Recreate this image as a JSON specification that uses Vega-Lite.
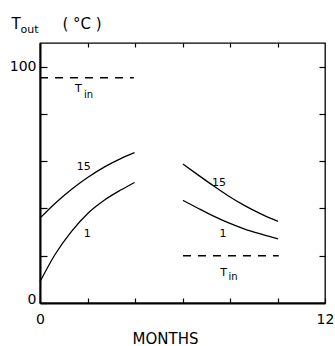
{
  "$schema": "https://vega.github.io/schema/vega-lite/v6.json",
  "autosize": "none",
  "width": 285,
  "height": 260,
  "padding": {"left": 40, "top": 43, "right": 10, "bottom": 43},
  "background": "white",
  "config": {
    "font": "DejaVu Sans",
    "view": {"stroke": "black", "strokeWidth": 1.3},
    "axis": {"grid": false, "domain": false, "tickColor": "black", "labelColor": "black", "titleColor": "black", "labelFont": "DejaVu Sans", "titleFont": "DejaVu Sans", "titleFontWeight": "normal", "labelFontSize": 14, "tickWidth": 1.2}
  },
  "datasets": {
    "curves": [
      {"s": "L15", "m": 0, "t": 35.9}, {"s": "L15", "m": 0.62, "t": 42.0}, {"s": "L15", "m": 1.32, "t": 48.0}, {"s": "L15", "m": 2.02, "t": 53.2}, {"s": "L15", "m": 2.72, "t": 57.6}, {"s": "L15", "m": 3.42, "t": 61.2}, {"s": "L15", "m": 3.98, "t": 63.6},
      {"s": "L1", "m": 0, "t": 9.0}, {"s": "L1", "m": 0.62, "t": 20.3}, {"s": "L1", "m": 1.32, "t": 30.2}, {"s": "L1", "m": 2.02, "t": 38.0}, {"s": "L1", "m": 2.72, "t": 43.6}, {"s": "L1", "m": 3.42, "t": 47.9}, {"s": "L1", "m": 3.98, "t": 51.0},
      {"s": "R15", "m": 6.02, "t": 58.8}, {"s": "R15", "m": 6.65, "t": 54.2}, {"s": "R15", "m": 7.2, "t": 50.3}, {"s": "R15", "m": 7.92, "t": 45.4}, {"s": "R15", "m": 8.62, "t": 41.2}, {"s": "R15", "m": 9.32, "t": 37.6}, {"s": "R15", "m": 10.02, "t": 34.5},
      {"s": "R1", "m": 6.02, "t": 43.4}, {"s": "R1", "m": 6.65, "t": 40.1}, {"s": "R1", "m": 7.2, "t": 37.3}, {"s": "R1", "m": 7.92, "t": 34.0}, {"s": "R1", "m": 8.62, "t": 31.3}, {"s": "R1", "m": 9.32, "t": 29.1}, {"s": "R1", "m": 10.02, "t": 27.1}
    ],
    "tin": [
      {"s": "up", "m": 0, "t": 95.3}, {"s": "up", "m": 3.95, "t": 95.3},
      {"s": "low", "m": 6.02, "t": 20}, {"s": "low", "m": 10.05, "t": 20}
    ],
    "labels": [
      {"m": 1.84, "t": 57.4, "txt": "15"}, {"m": 1.99, "t": 29.2, "txt": "1"},
      {"m": 7.54, "t": 50.6, "txt": "15"}, {"m": 7.7, "t": 29.4, "txt": "1"},
      {"m": 1.62, "t": 90.7, "txt": "T"}, {"m": 7.73, "t": 12.5, "txt": "T"}
    ],
    "subs": [
      {"m": 2.04, "t": 88.1, "txt": "in"}, {"m": 8.13, "t": 11.2, "txt": "in"}
    ]
  },
  "resolve": {"axis": {"x": "independent", "y": "independent"}},
  "layer": [
    {
      "data": {"name": "curves"},
      "mark": {"type": "line", "interpolate": "monotone", "color": "black", "strokeWidth": 1.3},
      "encoding": {
        "x": {"field": "m", "type": "quantitative", "scale": {"domain": [0, 12], "nice": false},
          "axis": {"orient": "bottom", "values": [0, 2, 4, 6, 8, 10, 12], "tickSize": -5, "labelExpr": "datum.value == 0 || datum.value == 12 ? datum.label : ''", "labelPadding": 14, "labelFlush": false, "domain": true, "domainColor": "black", "domainWidth": 2,
            "title": "MONTHS", "titleFontSize": 15, "titleX": 125, "titleY": 40, "titleAlign": "center", "titleBaseline": "alphabetic"}},
        "y": {"field": "t", "type": "quantitative", "scale": {"domain": [0, 110], "nice": false},
          "axis": {"orient": "left", "values": [0, 20, 40, 60, 80, 100], "tickSize": -7, "labelExpr": "datum.value == 0 || datum.value == 100 ? datum.label : ''", "labelPadding": 11, "labelBaseline": {"condition": {"test": "datum.value == 0", "value": "alphabetic"}, "value": "middle"}, "domain": true, "domainColor": "black", "domainWidth": 2,
            "title": "T", "titleFontSize": 15, "titleAngle": 0, "titleAlign": "left", "titleBaseline": "alphabetic", "titleX": -29, "titleY": -15}},
        "detail": {"field": "s"}
      }
    },
    {
      "data": {"name": "tin"},
      "mark": {"type": "line", "color": "black", "strokeWidth": 1.3, "strokeDash": [8, 7]},
      "encoding": {
        "x": {"field": "m", "type": "quantitative",
          "axis": {"orient": "top", "values": [2, 4, 6, 8, 10], "tickSize": -4, "labels": false,
            "title": "( °C )", "titleFontSize": 15, "titleX": 22, "titleY": -15, "titleAlign": "left", "titleBaseline": "alphabetic"}},
        "y": {"field": "t", "type": "quantitative",
          "axis": {"orient": "right", "values": [20, 40, 60, 80, 100], "tickSize": -6, "labels": false,
            "title": "out", "titleFontSize": 11, "titleAngle": 0, "titleAlign": "left", "titleBaseline": "alphabetic", "titleX": -305, "titleY": -11}},
        "detail": {"field": "s"}
      }
    },
    {
      "data": {"name": "labels"},
      "mark": {"type": "text", "fontSize": 11, "color": "black", "align": "center", "baseline": "middle"},
      "encoding": {
        "x": {"field": "m", "type": "quantitative", "axis": null},
        "y": {"field": "t", "type": "quantitative", "axis": null},
        "text": {"field": "txt"}
      }
    },
    {
      "data": {"name": "subs"},
      "mark": {"type": "text", "fontSize": 10, "color": "black", "align": "center", "baseline": "middle"},
      "encoding": {
        "x": {"field": "m", "type": "quantitative", "axis": null},
        "y": {"field": "t", "type": "quantitative", "axis": null},
        "text": {"field": "txt"}
      }
    }
  ]
}
